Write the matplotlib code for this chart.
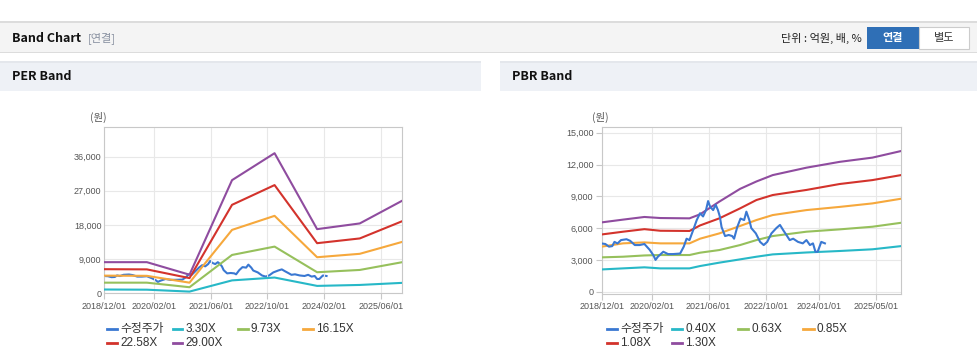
#밴드 차트 (PER / PBR) 재현
import matplotlib
matplotlib.use("Agg")
from matplotlib import pyplot as plt
from matplotlib.lines import Line2D
from matplotlib.patches import Rectangle
import matplotlib.dates as mdates
import pandas as pd

plt.rcParams['font.family'] = ['Liberation Sans', 'Noto Sans CJK KR', 'DejaVu Sans']

W, H = 978, 361

#수정주가 (두 차트 공통)
price_dates = ['2018-12-01', '2019-01-01', '2019-02-01', '2019-03-01', '2019-03-20', '2019-04-15',
               '2019-05-15', '2019-07-01', '2019-08-01', '2019-09-10', '2019-10-20', '2019-12-01',
               '2020-01-15', '2020-02-15', '2020-03-05', '2020-03-25', '2020-05-10', '2020-06-20',
               '2020-08-01', '2020-10-01', '2020-11-01', '2020-11-25', '2020-12-20', '2021-01-20',
               '2021-02-20', '2021-03-20', '2021-04-15', '2021-05-10', '2021-05-28', '2021-06-15',
               '2021-07-10', '2021-08-01', '2021-08-20', '2021-09-05', '2021-09-20', '2021-10-20',
               '2021-11-20', '2021-12-20', '2022-01-05', '2022-02-01', '2022-03-01', '2022-04-01',
               '2022-04-20', '2022-05-15', '2022-06-01', '2022-07-10', '2022-08-15', '2022-09-15',
               '2022-10-15', '2022-11-20', '2023-01-01', '2023-02-01', '2023-03-01', '2023-03-28',
               '2023-04-25', '2023-05-25', '2023-07-05', '2023-08-15', '2023-09-15', '2023-10-15',
               '2023-11-10', '2023-12-01', '2023-12-20', '2024-01-20', '2024-02-20']
price = [4550, 4500, 4250, 4300, 4700, 4550,
         4870, 4950, 4800, 4400, 4400, 4500,
         3950, 3450, 3000, 3300, 3770, 3550,
         3550, 3600, 4250, 5000, 4870, 5800,
         6760, 7400, 7100, 7700, 8550, 8000,
         7700, 8200, 7700, 7100, 6100, 5250,
         5350, 5250, 5000, 6100, 6900, 6760,
         7550, 6760, 6000, 5500, 4700, 4400,
         4700, 5500, 6000, 6300, 5800, 5350,
         4870, 5000, 4700, 4560, 4870, 4400,
         4560, 3770, 3770, 4700, 4560]

#PER 밴드
per_dates = ['2018-12-01', '2019-12-01', '2020-12-01', '2021-12-01',
             '2022-12-01', '2023-12-01', '2024-12-01', '2025-12-01']
per_labels = ['3.30X', '9.73X', '16.15X', '22.58X', '29.00X']
per_330 = [1000, 950, 450, 3400, 4150, 1950, 2200, 2750]
per_973 = [2800, 2800, 1600, 10100, 12300, 5550, 6150, 8200]
per_1615 = [4650, 4600, 2800, 16700, 20400, 9500, 10400, 13550]
per_2258 = [6350, 6300, 4000, 23300, 28500, 13200, 14450, 19000]
per_2900 = [8200, 8200, 4900, 29800, 36900, 16900, 18400, 24400]

#PBR 밴드
pbr_dates = ['2018-12-01', '2019-06-01', '2019-12-01', '2020-04-15', '2020-12-20', '2021-03-20',
             '2021-09-01', '2022-02-25', '2022-07-15', '2022-12-01', '2023-09-15', '2024-06-25',
             '2025-04-01', '2025-12-01']
pbr_labels = ['0.40X', '0.63X', '0.85X', '1.08X', '1.30X']
pbr_040 = [2100, 2200, 2300, 2200, 2200, 2420, 2740, 3050, 3300, 3520, 3700, 3840, 4000, 4300]
pbr_063 = [3240, 3300, 3420, 3460, 3460, 3680, 3930, 4400, 4870, 5250, 5660, 5880, 6130, 6500]
pbr_085 = [4250, 4560, 4650, 4560, 4560, 5000, 5500, 6200, 6760, 7230, 7700, 8000, 8330, 8770]
pbr_108 = [5400, 5660, 5900, 5750, 5730, 6250, 6920, 7860, 8650, 9120, 9600, 10160, 10530, 11000]
pbr_130 = [6540, 6800, 7050, 6950, 6920, 7300, 8500, 9700, 10400, 11000, 11700, 12250, 12650, 13270]

per_ticks = ['2018-12-01', '2020-02-01', '2021-06-01', '2022-10-01', '2024-02-01', '2025-06-01']
pbr_ticks = ['2018-12-01', '2020-02-01', '2021-06-01', '2022-10-01', '2024-01-01', '2025-05-01']

PRICE_COLOR = '#3a78d2'
BAND_COLORS = ['#27b8c7', '#96c05c', '#f6a83c', '#d3332c', '#8f4c9f']


def fx(px):
    return px / W


def fy(py):
    return 1 - py / H


fig = plt.figure(figsize=(W / 100, H / 100), dpi=100)
fig.patch.set_facecolor('white')


def rect(x0, y0, x1, y1, fc, ec='none', lw=0):
    fig.add_artist(Rectangle((fx(x0), fy(y1)), fx(x1) - fx(x0), fy(y0) - fy(y1),
                             transform=fig.transFigure, facecolor=fc, edgecolor=ec, linewidth=lw))


#상단 헤더
rect(0, 21, W, 53, '#dcdcdc')
rect(0, 23, W, 52, '#f4f4f4')
fig.text(fx(12), fy(38), 'Band Chart', fontsize=9, fontweight='bold', color='#111',
         family=['Noto Sans CJK KR', 'DejaVu Sans'], va='center')
fig.text(fx(88), fy(38), '[연결]', fontsize=8, color='#8890a0',
         family=['Noto Sans CJK KR', 'DejaVu Sans'], va='center')
fig.text(fx(862), fy(38), '단위 : 억원, 배, %', fontsize=8, color='#222',
         family=['Noto Sans CJK KR', 'DejaVu Sans'], va='center', ha='right')
rect(867, 27, 919, 49, '#2f6fb6')
rect(919, 27, 969, 49, 'white', '#cccccc', 0.8)
fig.text(fx(893), fy(38), '연결', fontsize=8, color='white', fontweight='bold',
         family=['Noto Sans CJK KR', 'DejaVu Sans'], va='center', ha='center')
fig.text(fx(944), fy(38), '별도', fontsize=8, color='#333',
         family=['Noto Sans CJK KR', 'DejaVu Sans'], va='center', ha='center')

#패널 헤더
for x0, x1, title in [(0, 481, 'PER Band'), (500, W, 'PBR Band')]:
    rect(x0, 61, x1, 91, '#e4e7ec')
    rect(x0, 63, x1, 91, '#eef1f6')
    fig.text(fx(x0 + 12), fy(77), title, fontsize=9, fontweight='bold', color='#111',
             family=['Noto Sans CJK KR', 'DejaVu Sans'], va='center')


def draw_panel(ax, band_dates, bands, labels, ticks, ylim, ystep, price_on_top, ytick_len, unit_x, leg_x):
    bd = pd.to_datetime(band_dates)
    pdts = pd.to_datetime(price_dates)
    pz = 5 if price_on_top else 1
    ax.plot(pdts, price, color=PRICE_COLOR, lw=1.5, zorder=pz)
    for vals, c in zip(bands, BAND_COLORS):
        ax.plot(bd, vals, color=c, lw=1.5, zorder=3)
    ax.set_xlim(pd.Timestamp('2018-12-01'), pd.Timestamp('2025-12-01'))
    ax.set_ylim(*ylim)
    ax.set_yticks(range(0, int(ylim[1]), ystep))
    ax.yaxis.set_major_formatter(plt.FuncFormatter(lambda v, p: f'{int(v):,}'))
    ax.set_xticks(pd.to_datetime(ticks))
    ax.xaxis.set_major_formatter(mdates.DateFormatter('%Y/%m/%d'))
    ax.grid(True, color='#e8e8e8', lw=0.8, zorder=0)
    for s in ax.spines.values():
        s.set_color('#c8c8c8')
        s.set_linewidth(0.8)
    ax.tick_params(axis='both', labelsize=6.5, colors='#c8c8c8', labelcolor='#555555', pad=2)
    ax.tick_params(axis='y', length=ytick_len)
    ax.tick_params(axis='x', length=4)
    fig.text(fx(unit_x), fy(117), '(원)', fontsize=7.5, color='#555',
             family=['Noto Sans CJK KR', 'DejaVu Sans'], va='center')

    #범례
    names = ['수정주가'] + labels
    colors = [PRICE_COLOR] + BAND_COLORS
    for i, (n, c) in enumerate(zip(names, colors)):
        col, row = i % 4, i // 4
        x = leg_x + col * 65.5
        y = 329 + row * 14
        fig.add_artist(Line2D([fx(x), fx(x + 10)], [fy(y), fy(y)], transform=fig.transFigure,
                              color=c, lw=2))
        fig.text(fx(x + 13), fy(y), n, fontsize=8.5, color='#333',
                 family=['Liberation Sans', 'Noto Sans CJK KR'], va='center')


ax1 = fig.add_axes([fx(104.3), fy(293.3), fx(402.3) - fx(104.3), fy(127) - fy(293.3)])
draw_panel(ax1, per_dates, [per_330, per_973, per_1615, per_2258, per_2900], per_labels,
           per_ticks, (0, 43800), 9000, False, 0, 90, 107)

ax2 = fig.add_axes([fx(601.7), fy(293.5), fx(901) - fx(601.7), fy(127.3) - fy(293.5)])
draw_panel(ax2, pbr_dates, [pbr_040, pbr_063, pbr_085, pbr_108, pbr_130], pbr_labels,
           pbr_ticks, (-170, 15510), 3000, True, 4, 592, 607)

fig.savefig('out.png', dpi=100)
